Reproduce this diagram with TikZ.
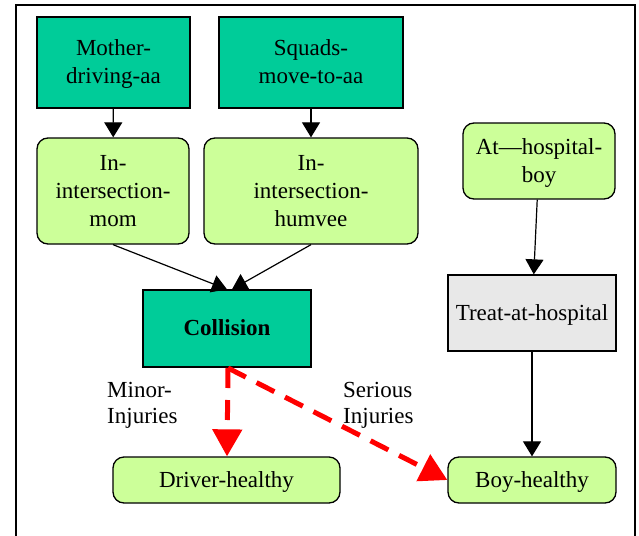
\documentclass[tikz,border=0pt]{standalone}
\usepackage{fontspec}
\setmainfont{Liberation Serif}
\usetikzlibrary{arrows.meta}
\definecolor{teal1}{RGB}{0,204,153}
\definecolor{lgreen}{RGB}{204,255,153}
\definecolor{lgrey}{RGB}{232,232,232}
\tikzset{
  base/.style={draw=black, line width=1.3pt, font=\fontsize{23}{28}\selectfont, align=center, inner sep=0pt, text depth=1pt},
  sqbox/.style={base, fill=teal1},
  rbox/.style={base, fill=lgreen, rounded corners=11pt},
  gbox/.style={base, fill=lgrey},
  blk/.style={draw=black, line width=1.2pt, -{Triangle[length=15pt,width=18pt]}},
  redd/.style={draw=red, line width=5pt, dash pattern=on 20pt off 12pt, -{Triangle[length=27pt,width=29pt]}},
  lbl/.style={font=\fontsize{23}{26}\selectfont, align=left, inner sep=0pt, anchor=west}
}
\begin{document}
\begin{tikzpicture}[x=1pt,y=-1pt]
\useasboundingbox (0,0) rectangle (639,535);
\fill[white] (0,0) rectangle (639,535);
\draw[line width=1.5pt] (16,545) -- (16,5) -- (635,5) -- (635,545);

\node[sqbox, minimum width=153pt, minimum height=91pt] (mom) at (113.5,62.5) {Mother-\\driving-aa};
\node[sqbox, minimum width=184pt, minimum height=91pt] (squads) at (311,62.5) {Squads-\\move-to-aa};
\node[rbox, minimum width=152pt, minimum height=106pt] (inmom) at (113,191) {In-\\intersection-\\mom};
\node[rbox, minimum width=214pt, minimum height=106pt] (inhum) at (311,191) {In-\\intersection-\\humvee};
\node[rbox, minimum width=152pt, minimum height=76pt] (athosp) at (539,161) {At—hospital-\\boy};
\node[sqbox, minimum width=168pt, minimum height=77pt, font=\fontsize{23}{28}\selectfont\bfseries] (coll) at (227,328.5) {Collision};
\node[gbox, minimum width=168pt, minimum height=76pt] (treat) at (532,313) {Treat-at-hospital};
\node[rbox, minimum width=227pt, minimum height=46pt] (driver) at (226.5,480) {Driver-healthy};
\node[rbox, minimum width=168pt, minimum height=46pt] (boy) at (532,480) {Boy-healthy};

\draw[blk] (mom) -- (inmom);
\draw[blk] (squads) -- (inhum);
\draw[blk] (inmom.south) -- (coll.north);
\draw[blk] (inhum.south) -- ([xshift=5pt]coll.north);
\draw[blk] (athosp) -- (treat);
\draw[blk] (treat) -- (boy);

\coordinate (cs) at (228,368);
\draw[redd] (cs) -- (coll.south |- driver.north);
\draw[redd] (cs) -- (boy.west);

\node[lbl] (minor) at (107,405) {Minor-\\Injuries};
\node[lbl] (serious) at (343,405) {Serious\\Injuries};
\end{tikzpicture}
\end{document}
